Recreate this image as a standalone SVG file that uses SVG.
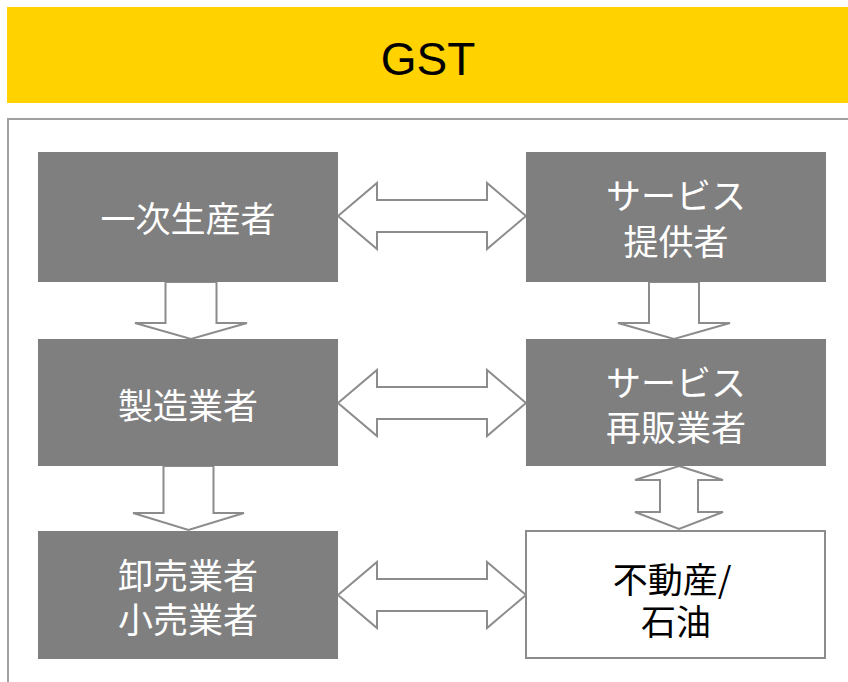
<svg xmlns="http://www.w3.org/2000/svg" width="848" height="682" viewBox="0 0 848 682">
<style>
.box{fill:#7f7f7f;}
.wbox{fill:#ffffff;stroke:#8c8c8c;stroke-width:2;}
.t{font-family:"Noto Sans CJK JP","Noto Sans",sans-serif;font-size:35px;text-anchor:middle;fill:#ffffff;}
.tb{fill:#000000;}
.arr{fill:#ffffff;stroke:#8c8c8c;stroke-width:2;stroke-linejoin:miter;}
</style>
<rect x="0" y="0" width="848" height="682" fill="#ffffff"/>
<g id="banner">
<rect x="7" y="7" width="841" height="96" fill="#ffd200"/>
<text x="428" y="75" font-family="Liberation Sans Narrow, Liberation Sans, sans-serif" font-size="46" text-anchor="middle" fill="#000000">GST</text>
</g>
<rect id="frame" x="8" y="119" width="850" height="580" fill="none" stroke="#a0a0a0" stroke-width="2"/>
<g id="connectors">
<polygon class="arr" points="338,216 377,183 377,200 487,200 487,183 526,216 487,249 487,232 377,232 377,249"/>
<polygon class="arr" points="338,403 377,370 377,387 487,387 487,370 526,403 487,436 487,419 377,419 377,436"/>
<polygon class="arr" points="338,595 377,562 377,579 487,579 487,562 526,595 487,628 487,611 377,611 377,628"/>
<polygon class="arr" points="165.5,282 216.5,282 216.5,323 247,323 191,339 135,323 165.5,323"/>
<polygon class="arr" points="649,282 699,282 699,323 730,323 674,339 618,323 649,323"/>
<polygon class="arr" points="163.5,466 213.5,466 213.5,513 244,513 188.5,530 133,513 163.5,513"/>
<polygon class="arr" points="679,466 723,480 698,480 698,512 723,512 679,529 635,512 660,512 660,480 635,480"/>
</g>
<g id="primary">
<rect class="box" x="38" y="152" width="300" height="130"/>
<text class="t" x="188" y="232">一次生産者</text>
</g>
<g id="service-provider">
<rect class="box" x="526" y="152" width="300" height="130"/>
<text class="t" x="676" y="209">サービス</text>
<text class="t" x="676" y="255">提供者</text>
</g>
<g id="manufacturer">
<rect class="box" x="38" y="339" width="300" height="127"/>
<text class="t" x="188" y="419">製造業者</text>
</g>
<g id="service-reseller">
<rect class="box" x="526" y="339" width="300" height="127"/>
<text class="t" x="676" y="396">サービス</text>
<text class="t" x="676" y="441">再販業者</text>
</g>
<g id="wholesale-retail">
<rect class="box" x="38" y="531" width="300" height="128"/>
<text class="t" x="188" y="589">卸売業者</text>
<text class="t" x="188" y="633">小売業者</text>
</g>
<g id="realestate-oil">
<rect class="wbox" x="526" y="531" width="299" height="127"/>
<text class="t tb" x="672" y="593">不動産/</text>
<text class="t tb" x="676" y="635">石油</text>
</g>
</svg>
